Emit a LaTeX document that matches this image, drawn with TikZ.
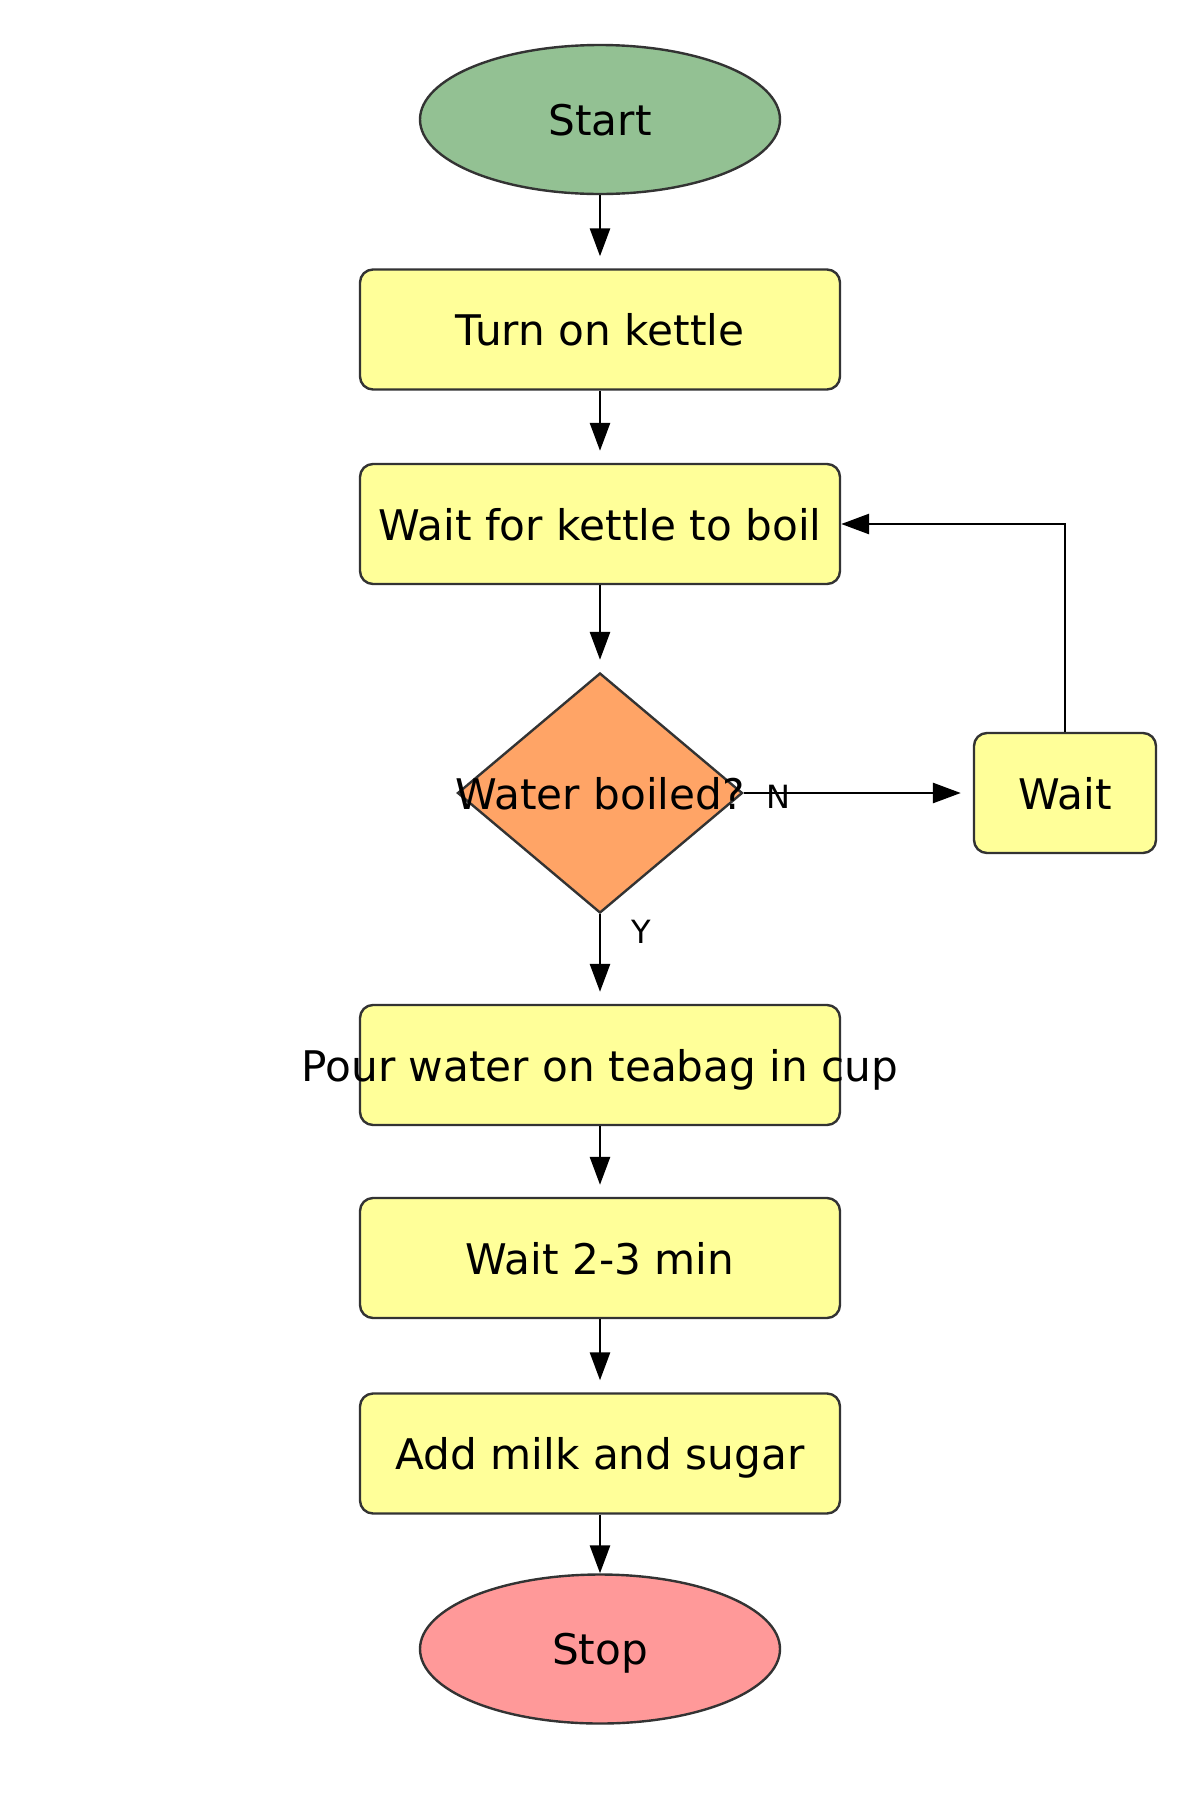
\documentclass[tikz,border=0pt]{standalone}
\usepackage{fontspec}
\setmainfont{DejaVu Sans}
\usetikzlibrary{shapes.geometric,arrows.meta}
\definecolor{startg}{HTML}{93C193}
\definecolor{boxy}{HTML}{FFFF99}
\definecolor{diao}{HTML}{FFA466}
\definecolor{stopr}{HTML}{FF9999}
\definecolor{edgec}{HTML}{333333}
\begin{document}
\begin{tikzpicture}[x=0.5pt,y=-0.5pt,
 every node/.style={font=\fontsize{21.1}{25}\selectfont, text=black, text depth=0pt},
 term/.style={ellipse, draw=edgec, line width=1.2pt, minimum width=180pt, minimum height=74.5pt, inner sep=0pt},
 proc/.style={rectangle, rounded corners=6.5pt, draw=edgec, line width=1.2pt, fill=boxy, minimum width=240pt, minimum height=60pt, inner sep=0pt},
 dia/.style={diamond, draw=edgec, line width=1.2pt, fill=diao, minimum width=142.5pt, minimum height=120pt, inner sep=0pt},
 arr/.style={-{Triangle[length=14pt,width=10pt]}, line width=1.4pt, black},
 gap/.style={shorten >=6pt},
 lbl/.style={font=\fontsize{16}{19}\selectfont}]
\useasboundingbox (0,0) rectangle (1200,1800);

\node[term, fill=startg] (start) at (600,119.5) {Start};
\node[proc] (turn) at (600,329.5) {Turn on kettle};
\node[proc] (boil) at (600,524) {Wait for kettle to boil};
\node[dia] (q) at (600,793) {\makebox[0pt]{Water boiled?}};
\node[proc, minimum width=91pt] (w) at (1065,793) {Wait};
\node[proc] (pour) at (600,1065) {\makebox[0pt]{Pour water on teabag in cup}};
\node[proc] (steep) at (600,1258) {Wait 2-3 min};
\node[proc] (milk) at (600,1453.5) {Add milk and sugar};
\node[term, fill=stopr] (stop) at (600,1649) {Stop};

\draw[arr, gap] (start) -- (turn);
\draw[arr, gap] (turn) -- (boil);
\draw[arr, gap] (boil) -- (q);
\draw[arr, gap] (q) -- (pour);
\draw[arr, gap] (pour) -- (steep);
\draw[arr, gap] (steep) -- (milk);
\draw[arr] (milk) -- (stop);
\draw[arr, gap] (q.east) -- (w.west);
\draw[arr] (w.north) |- (boil.east);

\node[lbl] (nlab) at (778,797) {N};
\node[lbl] (ylab) at (641,932) {Y};
\end{tikzpicture}
\end{document}
